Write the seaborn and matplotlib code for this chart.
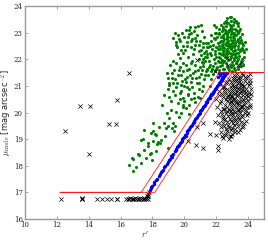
import numpy as np
import matplotlib
matplotlib.use('Agg')
import matplotlib.pyplot as plt
import seaborn as sns

# green: galaxies above the selection band (r', mu_mode)
green_points = [
    # dense core
    (22.7, 23.55), (22.95, 23.45), (23.1, 23.5), (22.55, 23.4), (23.25, 23.42), (22.85, 23.6),
    (22.0, 23.2), (22.3, 23.3), (22.45, 23.15), (22.6, 23.25), (22.75, 23.35), (22.9, 23.2),
    (23.05, 23.3), (23.2, 23.15), (23.35, 23.25), (23.5, 23.12), (22.15, 23.12), (22.8, 23.1),
    (23.0, 23.12), (22.5, 23.35), (23.3, 23.35), (21.85, 23.3),
    (21.7, 22.9), (21.9, 23.0), (22.05, 22.85), (22.2, 22.95), (22.35, 23.05), (22.45, 22.85),
    (22.55, 22.98), (22.65, 22.88), (22.75, 23.02), (22.85, 22.82), (22.95, 22.95), (23.05, 22.85),
    (23.15, 23.0), (23.25, 22.9), (23.4, 22.98), (23.5, 22.85), (23.65, 22.95), (22.3, 22.82),
    (22.6, 23.08), (22.9, 23.05), (23.1, 22.92), (23.3, 23.05), (22.0, 22.98), (22.7, 22.8),
    (21.5, 22.6), (21.65, 22.7), (21.8, 22.55), (21.95, 22.75), (22.1, 22.62), (22.2, 22.5),
    (22.3, 22.7), (22.4, 22.58), (22.5, 22.75), (22.6, 22.52), (22.7, 22.66), (22.8, 22.56),
    (22.9, 22.72), (23.0, 22.6), (23.1, 22.74), (23.2, 22.55), (23.3, 22.68), (23.45, 22.6),
    (23.55, 22.72), (23.7, 22.55), (23.8, 22.66), (22.45, 22.68), (22.75, 22.5), (23.05, 22.5),
    (22.35, 22.52), (22.95, 22.58), (22.65, 22.78), (23.38, 22.78),
    (21.35, 22.3), (21.5, 22.45), (21.6, 22.25), (21.75, 22.4), (21.9, 22.3), (22.0, 22.45),
    (22.15, 22.22), (22.25, 22.38), (22.4, 22.28), (22.5, 22.44), (22.6, 22.3), (22.7, 22.4),
    (22.85, 22.25), (22.95, 22.42), (23.05, 22.32), (23.15, 22.46), (23.25, 22.24), (23.35, 22.38),
    (23.5, 22.3), (23.6, 22.44), (23.75, 22.28), (23.85, 22.4), (22.55, 22.2), (22.8, 22.48),
    (23.1, 22.2), (22.35, 22.48),
    (21.2, 22.0), (21.4, 22.1), (21.55, 21.95), (21.7, 22.15), (21.85, 22.0), (22.0, 22.1),
    (22.1, 21.92), (22.25, 22.05), (22.4, 22.15), (22.5, 21.95), (22.65, 22.1), (22.75, 21.98),
    (22.9, 22.12), (23.0, 21.9), (23.15, 22.05), (23.3, 21.95), (23.45, 22.12), (23.6, 22.0),
    (23.75, 22.1), (22.3, 21.9), (22.85, 22.02), (23.2, 22.15),
    (21.0, 21.7), (21.2, 21.85), (21.4, 21.6), (21.6, 21.8), (21.75, 21.65), (21.9, 21.85),
    (22.05, 21.7), (22.2, 21.6), (22.35, 21.8), (22.5, 21.62), (22.65, 21.75), (22.8, 21.6),
    (22.95, 21.8), (23.1, 21.68), (23.25, 21.85), (23.4, 21.62), (23.55, 21.75), (22.45, 21.88),
    (23.0, 21.55), (22.15, 21.9),
    (22.2, 23.0), (22.4, 22.92), (22.55, 23.1), (22.7, 22.95), (22.85, 23.15), (23.0, 23.0),
    (23.15, 22.8), (23.25, 23.1), (23.45, 23.05), (22.25, 22.65), (22.45, 22.45), (22.6, 22.62),
    (22.75, 22.7), (22.9, 22.5), (23.05, 22.68), (23.2, 22.62), (23.35, 22.5), (23.5, 22.7),
    (23.65, 22.62), (22.1, 22.4), (22.3, 22.2), (22.45, 22.35), (22.65, 22.22), (22.75, 22.32),
    (22.9, 22.38), (23.0, 22.2), (23.2, 22.35), (23.4, 22.22), (23.55, 22.4), (23.7, 22.35),
    (21.95, 22.2), (22.2, 22.1), (22.35, 21.98), (22.55, 22.08), (22.7, 22.2), (22.95, 22.08),
    (23.1, 21.98), (23.25, 22.1), (23.4, 22.02), (23.55, 21.9), (21.8, 21.75), (22.0, 21.62),
    (22.25, 21.75), (22.4, 21.65), (22.6, 21.85), (22.75, 21.68), (22.9, 21.7), (23.05, 21.78),
    (23.2, 21.6), (23.35, 21.72), (23.5, 21.82), (23.7, 21.8), (22.6, 23.45), (22.4, 23.2),
    (22.85, 23.3), (23.15, 23.4), (22.95, 23.6), (23.4, 23.35), (22.65, 23.35), (21.85, 22.8),
    (21.6, 22.5), (21.4, 22.45), (21.45, 22.2), (21.25, 22.25), (21.1, 21.9), (21.3, 21.95),
    (21.55, 21.7), (21.05, 22.15),
    # upper-left lobe
    (19.3, 22.8), (19.45, 22.65), (19.6, 22.9), (19.55, 22.45), (19.75, 22.7), (19.85, 23.0),
    (19.9, 22.5), (20.0, 22.85), (20.1, 23.1), (20.05, 22.35), (20.2, 22.65), (20.3, 22.95),
    (20.35, 23.2), (20.4, 22.45), (20.5, 22.75), (20.6, 23.05), (20.55, 22.2), (20.7, 22.55),
    (20.8, 22.9), (20.85, 23.25), (20.9, 22.3), (21.0, 22.7), (21.1, 23.05), (21.15, 22.45),
    (21.25, 22.85), (21.3, 22.1), (19.6, 22.2), (19.4, 23.0), (19.7, 22.05), (20.25, 22.1),
    (20.95, 22.0), (21.05, 23.3), (20.45, 23.0), (19.95, 22.25), (20.65, 22.8), (21.35, 22.6),
    (19.5, 22.55), (19.65, 22.75), (19.8, 22.35), (20.15, 22.5), (20.25, 22.85), (20.45, 22.7),
    (20.6, 22.4), (20.75, 22.7), (20.9, 22.55), (21.05, 22.35), (21.2, 22.6), (20.3, 23.1),
    (20.65, 23.2),
    # middle
    (18.9, 21.5), (19.1, 21.8), (19.2, 21.3), (19.35, 21.6), (19.5, 21.85), (19.6, 21.4),
    (19.75, 21.7), (19.85, 21.2), (19.95, 21.55), (20.1, 21.8), (20.2, 21.35), (20.3, 21.65),
    (20.45, 21.15), (20.55, 21.5), (20.65, 21.8), (20.75, 21.3), (20.85, 21.6), (20.95, 21.1),
    (21.05, 21.45), (21.15, 21.75), (21.25, 21.25), (21.35, 21.55), (21.5, 21.4), (21.65, 21.25),
    (21.8, 21.45), (21.95, 21.55), (20.0, 21.0), (20.3, 20.9), (20.6, 20.75), (20.9, 20.9),
    (21.1, 20.8), (21.2, 21.0), (20.4, 20.5), (20.7, 20.4), (20.0, 20.45), (20.5, 21.95),
    (19.3, 21.95), (19.05, 21.1), (21.6, 21.0), (21.0, 20.55),
    (19.0, 21.3), (19.25, 21.5), (19.4, 21.25), (19.65, 21.6), (19.8, 21.4), (19.9, 21.85),
    (20.05, 21.25), (20.15, 21.6), (20.35, 21.4), (20.4, 21.85), (20.5, 21.3), (20.7, 21.55),
    (20.8, 21.1), (20.95, 21.35), (21.1, 21.6), (21.3, 21.4), (21.45, 21.65), (21.7, 21.55),
    (20.25, 20.7), (20.5, 20.95), (20.15, 20.95), (19.8, 20.8), (19.55, 21.1), (20.6, 20.55),
    (20.85, 20.6), (19.95, 20.2), (19.7, 20.5), (19.3, 20.8), (19.15, 20.45), (18.95, 20.9),
    (18.6, 20.3), (18.9, 20.0), (20.3, 20.3), (20.3, 19.95),
    # lower tail
    (19.07, 21.04), (19.28, 21.1), (19.49, 20.97), (19.81, 21.04), (20.13, 21.16), (18.75, 20.66),
    (19.07, 20.6), (19.39, 20.66), (19.7, 20.73), (19.92, 20.54), (20.23, 20.66), (19.6, 20.35),
    (19.92, 20.29), (19.18, 20.1), (19.49, 20.03), (19.81, 19.97), (20.13, 20.16), (18.02, 19.6),
    (17.91, 19.22), (18.23, 19.16), (18.54, 18.97), (18.33, 18.9), (17.49, 19.35), (17.28, 18.97),
    (17.7, 18.85), (17.91, 18.47), (17.17, 18.4), (16.75, 18.28), (17.49, 18.6), (18.86, 19.41),
    (19.07, 19.79), (16.79, 18.27), (16.5, 18.02), (16.77, 17.8), (17.11, 18.43), (17.85, 18.43),
    (17.43, 19.0), (17.74, 18.74), (18.06, 18.93), (18.27, 18.8), (18.48, 18.87), (19.0, 18.68),
    (18.16, 19.18), (19.0, 19.5), (19.22, 19.43), (19.43, 19.5), (18.06, 19.31), (19.32, 19.62),
    (19.65, 19.85), (19.35, 19.3), (18.7, 19.6), (18.4, 19.45), (18.8, 19.1), (17.95, 18.2),
    (17.6, 18.3), (17.3, 18.1), (18.2, 18.55), (16.95, 17.95),
]

# blue: galaxies inside the selection band
blue_points = [
    (17.86, 17.1), (17.93, 17.2), (18.08, 17.3), (18.2, 17.45), (18.4, 17.6), (18.52, 17.75),
    (18.67, 17.85), (18.74, 17.95), (18.9, 18.05), (18.96, 18.15), (19.1, 18.25), (19.17, 18.35),
    (19.32, 18.45), (19.39, 18.55), (19.5, 18.62), (19.55, 18.7), (19.68, 18.78), (19.71, 18.85),
    (19.83, 18.92), (19.88, 19.0), (20.0, 19.08), (20.04, 19.15), (20.15, 19.22), (20.2, 19.3),
    (20.32, 19.37), (20.36, 19.45), (20.48, 19.52), (20.53, 19.6), (20.64, 19.67), (20.69, 19.75),
    (20.8, 19.82), (20.85, 19.9), (20.97, 19.97), (21.01, 20.05), (21.13, 20.12), (21.18, 20.2),
    (21.29, 20.27), (21.34, 20.35), (21.45, 20.42), (21.5, 20.5), (21.61, 20.56), (21.63, 20.62),
    (21.74, 20.68), (21.77, 20.75), (21.89, 20.82), (21.91, 20.88), (22.02, 20.94), (22.04, 21.0),
    (22.15, 21.06), (22.17, 21.12), (22.28, 21.18), (22.3, 21.24), (22.41, 21.3), (22.42, 21.35),
    (22.52, 21.4), (22.53, 21.45), (22.62, 21.5), (22.48, 21.5), (22.34, 21.5), (22.2, 21.48),
    (20.1, 19.12), (20.6, 19.66), (21.05, 20.1), (21.4, 20.4), (21.7, 20.7), (21.95, 20.9),
    (22.1, 21.02), (22.25, 21.15), (22.36, 21.28), (22.47, 21.38), (22.58, 21.44), (22.7, 21.5),
    (19.25, 18.32), (19.6, 18.76), (18.6, 17.8), (21.2, 20.22),
    (17.9, 17.15), (18.0, 17.25), (18.13, 17.38), (18.3, 17.52), (18.46, 17.68), (18.82, 18.0),
    (19.03, 18.2), (19.24, 18.4), (19.45, 18.58), (19.62, 18.74), (19.77, 18.88), (19.94, 19.04),
    (20.26, 19.34), (20.42, 19.48), (20.58, 19.64), (20.75, 19.78), (20.9, 19.94), (21.07, 20.08),
    (21.24, 20.24), (21.39, 20.38), (21.55, 20.53), (21.68, 20.65), (21.83, 20.78), (21.97, 20.91),
    (22.22, 21.09), (22.35, 21.21), (22.46, 21.32), (22.57, 21.42), (22.4, 21.47), (22.27, 21.42),
    (22.56, 21.49), (22.13, 21.34),
]

# black crosses: galaxies outside the band
black_points = [
    # faint cloud below the band
    (23.1, 21.4), (23.3, 21.45), (23.5, 21.35), (23.7, 21.42), (23.9, 21.3), (24.1, 21.45),
    (23.2, 21.3), (23.6, 21.48), (24.0, 21.38),
    (22.6, 21.1), (22.8, 21.25), (23.0, 21.05), (23.15, 21.2), (23.35, 21.1), (23.5, 21.25),
    (23.65, 21.05), (23.8, 21.2), (23.95, 21.1), (24.15, 21.22), (22.9, 21.15), (23.25, 21.0),
    (23.75, 21.0), (24.05, 21.02), (23.45, 21.15),
    (22.2, 20.8), (22.4, 20.95), (22.55, 20.75), (22.7, 20.9), (22.85, 20.7), (23.0, 20.85),
    (23.1, 20.98), (23.2, 20.75), (23.35, 20.9), (23.5, 20.72), (23.6, 20.95), (23.75, 20.8),
    (23.9, 20.9), (24.05, 20.75), (24.2, 20.88), (22.95, 20.95), (23.3, 20.78), (23.65, 20.85),
    (23.05, 20.72), (23.45, 20.97),
    (22.0, 20.5), (22.15, 20.65), (22.3, 20.45), (22.45, 20.6), (22.6, 20.5), (22.75, 20.65),
    (22.9, 20.42), (23.0, 20.58), (23.15, 20.48), (23.3, 20.62), (23.45, 20.45), (23.55, 20.6),
    (23.7, 20.5), (23.85, 20.65), (24.0, 20.45), (24.15, 20.55), (22.85, 20.55), (23.25, 20.4),
    (23.6, 20.42), (23.9, 20.55),
    (22.05, 20.2), (22.25, 20.35), (22.4, 20.15), (22.55, 20.3), (22.7, 20.2), (22.85, 20.35),
    (23.0, 20.15), (23.1, 20.3), (23.25, 20.2), (23.4, 20.35), (23.5, 20.12), (23.65, 20.25),
    (23.8, 20.38), (23.95, 20.2), (24.1, 20.3), (22.95, 20.25), (23.35, 20.1), (23.7, 20.12),
    (22.1, 19.9), (22.3, 20.05), (22.45, 19.85), (22.6, 20.0), (22.75, 19.88), (22.9, 20.05),
    (23.05, 19.9), (23.2, 20.02), (23.35, 19.85), (23.5, 19.98), (23.65, 19.82), (23.8, 20.0),
    (23.95, 19.9), (22.85, 19.95), (23.15, 19.8), (23.45, 20.08),
    (22.2, 19.6), (22.4, 19.75), (22.5, 19.5), (22.65, 19.65), (22.8, 19.45), (22.95, 19.7),
    (23.1, 19.55), (23.25, 19.72), (23.4, 19.5), (23.55, 19.65), (23.7, 19.48), (23.85, 19.7),
    (22.6, 19.4), (23.0, 19.42), (23.3, 19.6),
    (22.3, 19.25), (22.55, 19.15), (22.7, 19.3), (22.9, 19.1), (23.2, 19.25), (23.5, 19.35),
    (22.45, 19.05),
    (22.35, 20.7), (22.5, 20.85), (22.65, 20.58), (22.8, 20.8), (22.95, 20.62), (23.1, 20.55),
    (23.2, 20.9), (23.4, 20.65), (23.55, 20.82), (23.7, 20.65), (23.85, 20.78), (24.0, 20.62),
    (22.5, 20.15), (22.65, 20.42), (22.8, 20.1), (22.95, 20.4), (23.1, 20.05), (23.2, 20.45),
    (23.35, 20.3), (23.55, 20.25), (23.75, 20.3), (23.9, 20.1), (22.35, 19.95), (22.55, 19.75),
    (22.7, 20.05), (22.85, 19.75), (23.0, 19.95), (23.1, 19.72), (23.3, 19.95), (23.45, 19.75),
    (23.6, 19.9), (23.75, 19.6), (22.3, 19.45), (22.45, 19.62), (22.75, 19.55), (22.9, 19.35),
    (23.05, 19.6), (23.2, 19.4), (23.4, 19.25), (23.6, 19.45), (22.6, 19.2), (22.8, 19.0),
    (23.0, 19.2), (22.35, 19.1), (23.05, 21.3), (23.25, 21.2), (23.4, 21.3), (23.55, 21.12),
    (23.8, 21.35), (22.7, 21.15), (22.5, 20.95), (24.1, 21.1), (24.2, 20.7), (24.15, 20.2),
    (24.0, 20.0),
    # scattered near the band
    (20.25, 18.93), (20.76, 18.77), (21.2, 18.67), (22.1, 18.75), (22.1, 18.6), (21.9, 19.65),
    (21.6, 19.2), (22.0, 19.15), (21.2, 19.6), (22.85, 19.1), (20.8, 19.46),
    # mixed into the green cloud
    (20.8, 21.98), (22.66, 22.05), (22.77, 21.8), (23.4, 21.8), (23.6, 21.9), (21.9, 21.55),
    # bright row at the floor
    (12.28, 16.77), (13.55, 16.77), (13.6, 16.76), (13.58, 16.78), (14.55, 16.77), (14.85, 16.77),
    (15.13, 16.77), (15.38, 16.77), (15.75, 16.77), (15.8, 16.76), (16.35, 16.77), (16.45, 16.76),
    (16.55, 16.77), (16.62, 16.78), (16.7, 16.77), (16.78, 16.76), (16.85, 16.77), (16.92, 16.78),
    (17.0, 16.77), (17.08, 16.76), (17.15, 16.77), (17.22, 16.78), (17.3, 16.77), (17.38, 16.76),
    (17.45, 16.77), (17.5, 16.79), (17.58, 16.77), (17.65, 16.8), (17.72, 16.77),
    (17.65, 16.88), (17.72, 16.95), (17.8, 17.02), (17.75, 16.85),
    # outliers
    (12.53, 19.3), (13.48, 20.25), (14.11, 20.25), (14.0, 18.45), (15.27, 19.57), (15.7, 19.57),
    (15.76, 20.47), (16.5, 21.5),
]

# selection band edges
upper_edge_r = [12.2, 17.3, 22.2, 25.0]
upper_edge_mu = [17.0, 17.0, 21.5, 21.5]
lower_edge_r = [12.2, 18.15, 23.0, 25.0]
lower_edge_mu = [17.0, 17.0, 21.5, 21.5]

sns.set_style('ticks')
plt.rcParams['font.family'] = ['DejaVu Serif']
plt.rcParams['mathtext.fontset'] = 'cm'
plt.rcParams['xtick.direction'] = 'in'
plt.rcParams['ytick.direction'] = 'in'
plt.rcParams['xtick.top'] = True
plt.rcParams['ytick.right'] = True

fig = plt.figure(figsize=(2.68, 2.42), dpi=100)
ax = fig.add_axes([0.093, 0.095, 0.892, 0.88])

gr, gm = zip(*green_points)
br, bm = zip(*blue_points)
kr, km = zip(*black_points)

sns.scatterplot(x=list(gr), y=list(gm), ax=ax, color='green', marker='o', s=5, linewidth=0, zorder=2)
sns.scatterplot(x=list(kr), y=list(km), ax=ax, color='black', marker='x', s=9, linewidth=0.5, zorder=3)
sns.scatterplot(x=list(br), y=list(bm), ax=ax, color='blue', marker='o', s=6, linewidth=0, zorder=4)
ax.plot(upper_edge_r, upper_edge_mu, color='red', lw=0.7, alpha=0.8, zorder=5)
ax.plot(lower_edge_r, lower_edge_mu, color='red', lw=0.7, alpha=0.8, zorder=5)

ax.set_xlim(10, 25)
ax.set_ylim(16, 24)
ax.set_xticks(np.arange(10, 25, 2))
ax.set_yticks(np.arange(16, 25, 1))
ax.tick_params(labelsize=5, length=2, width=0.5, color='#888888', pad=1.5)
for sp in ax.spines.values():
    sp.set_color('#999999')
    sp.set_linewidth(1.0)

ax.set_xlabel("$r'$", fontsize=6, labelpad=0)
ax.set_ylabel(r'$\mu_{\rm mode}$ [mag arcsec$^{-2}$]', fontsize=6, family='DejaVu Sans')
ax.yaxis.set_label_coords(-0.048, 0.5)

fig.savefig('out.png', dpi=100)
